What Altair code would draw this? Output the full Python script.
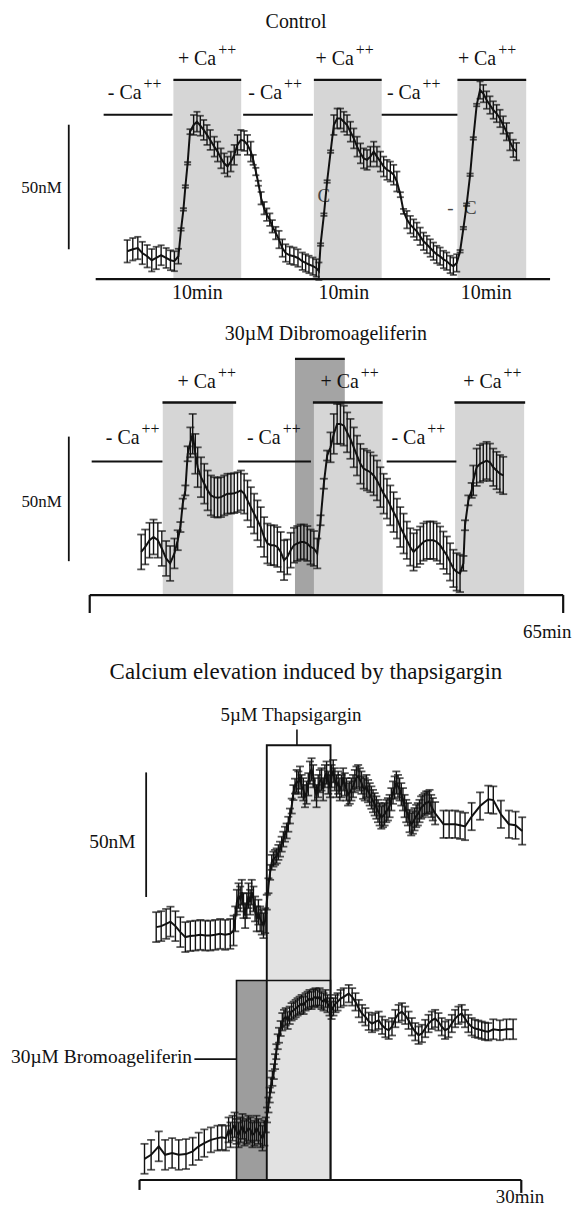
import altair as alt
import pandas as pd

FONT = "Liberation Serif"
INK = "#111111"
LIGHT = "#d6d6d6"
DARK2 = "#a4a4a4"
LIGHT3 = "#e2e2e2"
DARK3 = "#9d9d9d"
W = 564

# ---------------- Panel 1: Control (time in min, [Ca] in nM above baseline) ----------------
p1_time = [2.26, 2.66, 3.02, 3.34, 3.69, 4.02, 4.34, 4.69, 5.05, 5.36,
           5.64, 5.93, 6.12, 6.29, 6.43, 6.59, 6.76, 7.02, 7.26, 7.5,
           7.74, 7.98, 8.21, 8.5, 8.74, 8.98, 9.21, 9.45, 9.69, 9.93,
           10.16, 10.41, 10.64, 10.88, 11.12, 11.29, 11.48, 11.66, 11.86, 12.07,
           12.26, 12.48, 12.66, 12.91, 13.14, 13.38, 13.62, 13.91, 14.21, 14.5,
           14.81, 15.05, 15.29, 15.57, 15.81, 16.0, 16.12, 16.36, 16.59, 16.84,
           17.07, 17.31, 17.55, 17.79, 18.02, 18.26, 18.5, 18.74, 18.98, 19.21,
           19.45, 19.69, 19.93, 20.16, 20.41, 20.64, 20.88, 21.12, 21.36, 21.59,
           21.84, 22.07, 22.31, 22.55, 22.79, 23.02, 23.26, 23.5, 23.74, 23.98,
           24.21, 24.45, 24.69, 24.93, 25.16, 25.41, 25.64, 25.88, 26.12, 26.36,
           26.59, 26.84, 27.07, 27.31, 27.55, 27.79, 28.02, 28.26, 28.5, 28.74,
           28.98, 29.21, 29.45, 29.69, 29.93, 30.16]
p1_ca = [11.2, 12.0, 12.5, 10.5, 9.2, 7.6, 8.5, 9.6, 8.5, 7.6,
         7.2, 9.2, 20.0, 28.0, 37.2, 46.5, 59.2, 61.9, 63.2, 61.6,
         59.9, 57.9, 55.9, 53.2, 51.2, 48.5, 46.5, 45.2, 47.2, 49.9,
         53.9, 55.9, 55.5, 53.9, 51.2, 47.9, 43.2, 38.5, 32.5, 28.5,
         25.9, 23.9, 21.2, 18.5, 15.9, 12.5, 10.5, 9.6, 9.2, 8.5,
         7.2, 6.5, 5.9, 5.2, 4.5, 3.2, 13.9, 25.9, 39.2, 51.2,
         61.9, 64.5, 64.5, 63.2, 61.9, 59.2, 56.5, 53.2, 50.5, 48.5,
         47.9, 49.2, 51.2, 49.2, 47.2, 45.2, 43.9, 43.2, 41.9, 39.2,
         33.9, 27.2, 23.9, 21.9, 20.5, 19.2, 17.2, 15.2, 13.9, 12.5,
         11.2, 9.9, 9.2, 7.9, 7.2, 5.9, 5.2, 6.5, 11.2, 20.5,
         29.9, 41.9, 56.5, 69.9, 75.9, 74.5, 71.9, 69.9, 67.9, 66.5,
         64.5, 61.9, 59.2, 55.2, 52.5, 51.2]
p1_err = [4.5, 4.5, 4.5, 4.5, 4.5, 4.5, 4.5, 4.0, 4.0, 4.0,
          4.0, 3.0, 0.5, 0.5, 0.5, 0.5, 1.0, 4.0, 4.0, 4.0,
          4.0, 4.0, 4.0, 4.0, 4.0, 4.0, 4.0, 4.0, 4.0, 4.0,
          4.0, 4.0, 4.0, 4.0, 4.0, 2.0, 1.5, 1.0, 2.5, 2.5,
          2.5, 2.5, 2.5, 2.5, 3.5, 3.5, 3.5, 3.5, 3.5, 3.5,
          3.5, 3.5, 3.5, 3.5, 3.5, 3.5, 0.5, 0.5, 0.5, 0.5,
          4.0, 4.0, 4.0, 4.0, 4.0, 4.0, 4.0, 4.0, 4.0, 4.0,
          4.0, 4.0, 4.0, 4.0, 4.0, 4.0, 4.0, 4.0, 4.0, 4.0,
          1.0, 1.0, 3.5, 3.5, 3.5, 3.5, 3.5, 3.5, 3.5, 3.5,
          3.5, 3.5, 3.5, 3.5, 3.5, 3.5, 3.5, 3.5, 0.5, 0.5,
          0.5, 0.5, 0.5, 0.5, 3.5, 3.5, 3.5, 3.5, 3.5, 3.5,
          3.5, 3.5, 3.5, 3.5, 3.5, 3.5]
p1_on_start = [5.57, 15.64, 25.93]
p1_on_end = [10.43, 20.5, 30.86]
p1_off_start = [0.57, 10.57, 20.5]
p1_off_end = [5.5, 15.57, 25.93]

# ---------------- Panel 2: 30 uM Dibromoageliferin ----------------
p2_time = [7.07, 7.62, 8.21, 8.76, 9.35, 9.9, 10.49, 11.04, 11.63, 12.08,
           12.45, 12.77, 13.13, 13.45, 13.82, 14.14, 14.5, 14.82, 15.28, 15.73,
           16.19, 16.64, 17.1, 17.56, 18.01, 18.47, 18.92, 19.38, 19.84, 20.29,
           20.75, 21.2, 21.66, 22.12, 22.57, 23.03, 23.48, 23.94, 24.4, 24.85,
           25.31, 25.76, 26.22, 26.68, 27.13, 27.59, 28.04, 28.5, 28.96, 29.41,
           29.87, 30.32, 30.78, 31.24,
           31.69, 32.14, 32.6, 33.06, 33.51, 33.97, 34.42, 34.88, 35.34, 35.79,
           36.25, 36.7, 37.16, 37.62, 38.07, 38.53, 38.98, 39.44, 39.9, 40.35,
           40.81, 41.26, 41.72, 42.18, 42.63, 43.09, 43.54, 44.0, 44.46, 44.91,
           45.37, 45.82, 46.28, 46.74, 47.19, 47.65, 48.1, 48.56, 49.02, 49.47,
           49.93, 50.38, 50.84, 51.3, 51.52, 51.98, 52.44, 52.66, 53.12, 53.58,
           54.03, 54.49, 54.94, 55.4, 55.86, 56.31, 56.77]
p2_ca = [17.3, 19.3, 22.0, 23.3, 22.0, 18.7, 14.7, 12.7, 16.7, 22.0,
         27.3, 36.7, 42.0, 56.7, 61.3, 64.7, 56.7, 51.3, 47.3, 44.7,
         42.0, 40.0, 39.3, 39.1, 39.3, 40.0, 40.7, 40.7, 40.9, 41.3,
         42.0, 40.7, 38.0, 35.3, 32.7, 30.0, 27.3, 23.3, 20.7, 20.0,
         20.0, 19.3, 17.3, 14.0, 15.3, 18.0, 20.0, 20.7, 21.3, 21.3,
         20.7, 19.3, 18.7, 16.7,
         30.0, 44.7, 56.0, 59.3, 64.7, 68.7, 68.7, 68.0, 65.3, 62.7,
         59.3, 56.0, 52.7, 50.7, 50.0, 49.3, 48.0, 46.0, 43.3, 40.7,
         38.7, 36.0, 33.3, 30.7, 27.3, 24.7, 22.0, 19.3, 17.3, 18.7,
         20.0, 21.3, 22.0, 22.0, 22.0, 21.3, 20.0, 18.0, 16.0, 13.3,
         10.7, 9.3, 8.7, 12.7, 28.0, 38.0, 42.0, 46.0, 51.3, 52.7,
         53.3, 54.0, 53.3, 51.3, 50.0, 48.7, 48.0]
p2_err = [7, 7, 7, 7, 7, 7, 7, 7, 6, 4,
          2, 2, 2, 3, 6, 8, 8, 8, 8, 8,
          8, 8, 8, 8, 8, 8, 8, 8, 8, 8,
          8, 8, 8, 8, 8, 8, 8, 8, 8, 8,
          8, 8, 8, 8, 7, 7, 7, 7, 7, 7,
          7, 7, 7, 6,
          2, 2, 2, 6, 8, 8, 8, 8, 8, 8,
          8, 8, 8, 8, 8, 8, 8, 8, 8, 8,
          8, 8, 8, 8, 8, 8, 7.5, 7.5, 7.5, 7.5,
          7.5, 7.5, 7.5, 7.5, 7.5, 7.5, 7.5, 7.5, 7.5, 7.5,
          7.5, 7.5, 7.5, 3, 2, 2, 3, 6, 7.5, 7.5,
          7.5, 7.5, 7.5, 7.5, 7.5, 7.5, 7.5]
p2_on_start = [10.03, 30.78, 50.16]
p2_on_end = [19.7, 40.22, 59.64]
p2_bar_start = [9.99, 30.64, 50.07]
p2_bar_end = [20.1, 40.22, 59.78]
p2_off_start = [0.27, 20.38, 40.77]
p2_off_end = [9.99, 30.37, 50.34]
p2_drug_start = [28.18]
p2_drug_end = [35.02]

# ---------------- Panel 3: thapsigargin ----------------
p3_up_time = [1.31, 1.70, 2.09, 2.43, 2.82, 3.21, 3.60, 3.99, 4.39, 4.78,
              5.17, 5.56, 5.95, 6.34, 6.73, 7.13, 7.39, 7.52, 7.65, 7.78,
              7.91, 8.04, 8.17, 8.30, 8.43, 8.56, 8.69, 8.82, 8.95, 9.08,
              9.21, 9.34, 9.48, 9.61, 9.74, 9.87, 10.0, 10.13, 10.26, 10.39,
              10.52, 10.65, 10.78, 10.91, 11.04, 11.17, 11.30, 11.43, 11.56, 11.69,
              11.82, 11.96, 12.09, 12.22, 12.35, 12.48, 12.61, 12.74, 12.87, 13.0,
              13.13, 13.26, 13.39, 13.52, 13.65, 13.78, 13.91, 14.04, 14.17, 14.30,
              14.43, 14.57, 14.70, 14.83, 14.96, 15.09, 15.22, 15.35, 15.48, 15.61,
              15.74, 15.87, 16.0, 16.13, 16.26, 16.39, 16.52, 16.65, 16.78, 16.92,
              17.05, 17.18, 17.31, 17.44, 17.57, 17.70, 17.83, 17.96, 18.09, 18.22,
              18.35, 18.48, 18.61, 18.74, 18.87, 19.0, 19.13, 19.26, 19.39, 19.52,
              19.65, 19.79, 19.92, 20.05, 20.18, 20.31, 20.44, 20.57, 20.70, 20.83,
              20.96, 21.09, 21.22, 21.35, 21.48, 21.61, 21.74, 21.87, 22.0, 22.13,
              22.26, 22.40, 22.53, 22.66, 22.79, 22.92, 23.05, 23.23, 23.89, 24.33,
              24.80, 25.19, 25.58, 26.10, 26.76, 27.41, 27.80, 28.40, 29.03, 29.55,
              30.07]
p3_up_ca = [11.5, 11.9, 12.8, 13.7, 11.9, 9.5, 7.5, 7.9, 8.1, 8.4,
            8.1, 8.1, 8.4, 8.8, 8.4, 8.8, 10.1, 14.8, 21.5, 24.1,
            22.8, 25.5, 20.1, 16.1, 20.1, 24.1, 21.5, 25.5, 22.8, 18.8,
            14.8, 17.5, 14.8, 13.5, 12.1, 14.1, 21.5, 28.1, 33.5, 37.5,
            38.8, 39.5, 40.1, 41.5, 42.8, 44.8, 46.8, 48.8, 50.1, 52.8,
            56.1, 60.1, 65.5, 68.1, 70.1, 69.5, 71.5, 68.1, 66.8, 64.1,
            65.5, 68.8, 73.5, 74.8, 72.1, 66.8, 64.1, 68.1, 70.1, 70.8,
            66.8, 72.1, 73.5, 69.5, 68.1, 72.1, 74.1, 70.8, 68.1, 69.5,
            66.8, 68.1, 70.8, 68.8, 66.8, 64.8, 65.5, 66.8, 68.1, 70.1,
            71.5, 72.1, 70.8, 69.5, 67.5, 66.8, 68.1, 66.1, 64.8, 63.5,
            62.1, 60.8, 59.5, 58.1, 56.8, 55.5, 56.1, 56.8, 58.1, 58.8,
            60.1, 62.8, 65.5, 67.5, 69.5, 68.1, 66.8, 64.8, 62.8, 60.1,
            58.1, 56.8, 54.1, 52.8, 53.5, 54.8, 56.1, 56.8, 58.1, 59.5,
            60.1, 60.8, 61.5, 61.5, 62.1, 60.1, 58.8, 57.2, 52.8, 52.8,
            52.8, 52.4, 51.9, 55.9, 60.1, 62.8, 62.5, 56.8, 52.8, 52.4,
            50.1]
p3_up_err = [6, 6, 6, 6, 6, 6, 6, 6, 6, 6,
             6, 6, 6, 6, 6, 6, 6, 5, 5, 5,
             5, 5, 5, 5, 5, 5, 5, 5, 5, 5,
             5, 5, 5, 5, 5, 5, 3, 3, 3, 3,
             3, 3, 3, 3, 3, 3, 3, 3, 3, 3,
             3, 3, 3, 3, 4.5, 4.5, 4.5, 4.5, 4.5, 4.5,
             4.5, 4.5, 4.5, 4.5, 4.5, 4.5, 4.5, 4.5, 4.5, 4.5,
             4.5, 4.5, 4.5, 4.5, 4.5, 4.5, 4.5, 4.5, 4.5, 4.5,
             4.5, 4.5, 4.5, 4.5, 4.5, 4.5, 4.5, 4.5, 4.5, 4.5,
             4.5, 4.5, 4.5, 4.5, 4.5, 4.5, 4.5, 4.5, 4.5, 4.5,
             4.5, 4.5, 4.5, 4.5, 4.5, 4.5, 4.5, 4.5, 4.5, 4.5,
             4.5, 4.5, 4.5, 4.5, 4.5, 4.5, 4.5, 4.5, 4.5, 4.5,
             4.5, 4.5, 4.5, 4.5, 4.5, 4.5, 4.5, 4.5, 4.5, 4.5,
             4.5, 4.5, 4.5, 4.5, 4.5, 4.5, 4.5, 4.5, 5.5, 5.5,
             5.5, 5.5, 5.5, 5.5, 5.5, 5.5, 5.5, 5.5, 5.5, 5.5,
             5.5]
p3_lo_time = [0.39, 0.91, 1.51, 2.01, 2.56, 3.08, 3.65, 4.18, 4.65, 5.09,
              5.61, 6.13, 6.47, 6.79, 7.0, 7.15, 7.31, 7.47, 7.62, 7.78,
              7.94, 8.09, 8.25, 8.41, 8.56, 8.72, 8.87, 9.03, 9.19, 9.34,
              9.50, 9.66, 9.81, 9.92, 10.02, 10.13, 10.23, 10.34, 10.44, 10.55,
              10.65, 10.75, 10.86, 10.96, 11.09, 11.22, 11.35, 11.49, 11.64, 11.80,
              11.95, 12.11, 12.27, 12.42, 12.58, 12.74, 12.89, 13.05, 13.21, 13.36,
              13.52, 13.68, 13.83, 13.99, 14.15, 14.30, 14.46, 14.62, 14.77, 14.93,
              15.09, 15.24, 15.40, 15.56, 15.80, 16.05, 16.44, 16.71, 16.97, 17.23, 17.49,
              17.75, 18.01, 18.27, 18.53, 18.79, 19.06, 19.32, 19.58, 19.84, 20.10,
              20.36, 20.62, 20.88, 21.14, 21.40, 21.67, 21.93, 22.19, 22.45, 22.71,
              22.97, 23.23, 23.49, 23.75, 24.01, 24.28, 24.54, 24.80, 25.06, 25.32,
              25.58, 25.84, 26.10, 26.36, 26.62, 26.89, 27.15, 27.41, 27.80, 28.32,
              28.84, 29.36]
p3_lo_ca = [8.5, 10.1, 13.5, 10.1, 10.8, 10.1, 10.4, 11.5, 13.5, 14.8,
            16.1, 16.8, 17.1, 16.8, 20.1, 18.1, 20.8, 22.1, 19.5, 18.1,
            20.1, 21.5, 18.8, 19.5, 20.8, 20.1, 18.1, 18.8, 20.8, 19.5,
            18.1, 16.8, 18.8, 22.1, 26.1, 30.1, 34.1, 38.1, 40.8, 43.5,
            47.5, 51.5, 55.5, 58.1, 60.8, 63.5, 64.8, 65.5, 64.1, 66.1,
            67.5, 68.1, 68.8, 69.5, 70.1, 70.8, 70.1, 71.5, 72.1, 72.8,
            72.1, 73.1, 73.5, 72.8, 73.5, 72.1, 71.5, 72.8, 70.8, 69.5,
            68.1, 69.5, 70.8, 71.5, 72.8, 73.5, 74.8, 73.5, 71.5, 68.8, 66.8,
            65.5, 63.7, 62.8, 63.5, 64.1, 62.1, 60.8, 60.1, 61.5, 64.8,
            66.8, 67.5, 66.1, 64.1, 61.5, 59.5, 58.1, 58.8, 60.8, 62.8,
            64.1, 64.8, 63.5, 61.5, 60.1, 60.8, 62.8, 64.8, 66.1, 66.8,
            64.8, 62.8, 61.5, 60.8, 60.5, 60.1, 59.7, 59.5, 60.5, 60.1,
            60.5, 60.5]
p3_lo_err = [6, 6, 6, 6, 6, 6, 6, 5.5, 5.5, 5.5,
             5, 5, 5, 5, 5, 5, 5, 5, 5, 5,
             5, 5, 5, 5, 5, 5, 5, 5, 5, 5,
             5, 5, 5, 3, 3, 3, 3, 3, 3, 3,
             3, 3, 3, 3, 3, 3.5, 3.5, 3.5, 3.5, 3.5,
             3.5, 3.5, 3.5, 3.5, 3.5, 3.5, 3.5, 3.5, 3.5, 3.5,
             3.5, 3.5, 3.5, 3.5, 3.5, 3.5, 3.5, 3.5, 3.5, 3.5,
             3.5, 3.5, 3.5, 3.5, 3.5, 3.5, 3.5, 3.5, 3.5, 3.5, 3.5,
             3.5, 3.5, 3.5, 3.5, 3.5, 3.5, 3.5, 3.5, 3.5, 3.5,
             3.5, 3.5, 3.5, 3.5, 3.5, 3.5, 3.5, 3.5, 3.5, 3.5,
             3.5, 3.5, 3.5, 3.5, 3.5, 3.5, 3.5, 3.5, 3.5, 3.5,
             3.5, 3.5, 3.5, 3.5, 3.5, 3.5, 3.5, 3.5, 4, 4,
             4, 4]
p3_thaps = [10.0, 15.01]
p3_bromo = [7.62, 10.0]
UP_SHIFT = 90  # vertical offset (nM units) that stacks the upper trace above the lower one


# ---------------- helpers ----------------
def X(f, xs):
    return alt.X(f"{f}:Q", scale=xs, axis=None)


def Y(f, ys):
    return alt.Y(f"{f}:Q", scale=ys, axis=None)


def band(starts, ends, lo, hi, xs, ys, color, **kw):
    df = pd.DataFrame({"s": starts, "e": ends})
    return (alt.Chart(df).transform_calculate(lo=str(lo), hi=str(hi))
            .mark_rect(color=color, **kw)
            .encode(x=X("s", xs), x2="e:Q", y=Y("lo", ys), y2="hi:Q"))


def hrule(starts, ends, level, xs, ys, width=1.5):
    df = pd.DataFrame({"s": starts, "e": ends})
    return (alt.Chart(df).transform_calculate(v=str(level))
            .mark_rule(color=INK, strokeWidth=width)
            .encode(x=X("s", xs), x2="e:Q", y=Y("v", ys)))


def vrule(ats, lo, hi, xs, ys, width=1.5):
    df = pd.DataFrame({"t": ats})
    return (alt.Chart(df).transform_calculate(lo=str(lo), hi=str(hi))
            .mark_rule(color=INK, strokeWidth=width)
            .encode(x=X("t", xs), y=Y("lo", ys), y2="hi:Q"))


def texts(ts, vs, labels, xs, ys, size, align="center", baseline="middle", dx=0, dy=0, color=INK):
    df = pd.DataFrame({"t": ts, "v": vs, "label": labels})
    return (alt.Chart(df)
            .mark_text(font=FONT, fontSize=size, align=align, baseline=baseline, dx=dx, dy=dy, color=color)
            .encode(x=X("t", xs), y=Y("v", ys), text="label:N"))


def ca_labels(anchors, level, sign, xs, ys):
    n = len(anchors)
    return [
        texts(anchors, [level] * n, [f"{sign} Ca"] * n, xs, ys, 20, align="right", baseline="alphabetic"),
        texts(anchors, [level] * n, ["++"] * n, xs, ys, 16, align="left", baseline="alphabetic", dx=2, dy=-10),
    ]


def trace(times, vals, errs, xs, ys, cap, shift=0):
    df = pd.DataFrame({"t": times, "v": vals, "e": errs})
    base = alt.Chart(df).transform_calculate(
        m=f"datum.v + {shift}",
        lo=f"datum.v - datum.e + {shift}",
        hi=f"datum.v + datum.e + {shift}",
    )
    bars = base.mark_rule(color=INK, strokeWidth=1.4).encode(x=X("t", xs), y=Y("lo", ys), y2="hi:Q")
    c1 = base.mark_tick(color=INK, orient="horizontal", size=cap, thickness=1.8).encode(x=X("t", xs), y=Y("lo", ys))
    c2 = base.mark_tick(color=INK, orient="horizontal", size=cap, thickness=1.8).encode(x=X("t", xs), y=Y("hi", ys))
    line = base.mark_line(color=INK, strokeWidth=2.0).encode(x=X("t", xs), y=Y("m", ys))
    return [bars, c1, c2, line]


# ---------------- panel 1 ----------------
xs1 = alt.Scale(domain=[-6.2857, 34.0], nice=False, zero=False)
ys1 = alt.Scale(domain=[-12.8, 108.0], nice=False, zero=False)
p1_layers = [
    band(p1_on_start, p1_on_end, 0, 80, xs1, ys1, LIGHT),
    hrule(p1_on_start, p1_on_end, 80, xs1, ys1, 2.4),
    hrule(p1_off_start, p1_off_end, 66, xs1, ys1, 1.8),
    hrule([0], [32.57], 0, xs1, ys1, 2.2),
    vrule([-1.93], 12, 62, xs1, ys1, 1.8),
    texts([16.36, 25.43, 26.86], [33.2, 28.4, 28.4], ["C", "-", "C"], xs1, ys1, 19, color="#444444"),
]
p1_layers += trace(p1_time, p1_ca, p1_err, xs1, ys1, 7)
p1_layers += [
    texts([14.36], [103.2], ["Control"], xs1, ys1, 20),
    texts([7.29, 17.79, 28.0], [-5.6, -5.6, -5.6], ["10min", "10min", "10min"], xs1, ys1, 20),
    texts([-2.43], [36.4], ["50nM"], xs1, ys1, 17, align="right"),
]
p1_layers += ca_labels([8.64, 18.5, 28.71], 86, "+", xs1, ys1)
p1_layers += ca_labels([3.29, 13.36, 23.29], 72.4, "-", xs1, ys1)
panel1 = alt.layer(*p1_layers).properties(width=W, height=302)

# ---------------- panel 2 ----------------
xs2 = alt.Scale(domain=[-11.218, 65.937], nice=False, zero=False)
ys2 = alt.Scale(domain=[-20.0, 114.0], nice=False, zero=False)
p2_layers = [
    band(p2_drug_start, p2_drug_end, 0, 94.8, xs2, ys2, DARK2),
    hrule(p2_drug_start, p2_drug_end, 94.8, xs2, ys2, 2.2),
    band(p2_on_start, p2_on_end, 0, 77.3, xs2, ys2, LIGHT),
    hrule(p2_bar_start, p2_bar_end, 77.3, xs2, ys2, 2.4),
    hrule(p2_off_start, p2_off_end, 53.6, xs2, ys2, 1.8),
    hrule([0], [65], 0, xs2, ys2, 2.2),
    vrule([0, 65], -7.2, 0, xs2, ys2, 2.2),
    vrule([-2.87], 13.6, 63.6, xs2, ys2, 1.8),
]
p2_layers += trace(p2_time, p2_ca, p2_err, xs2, ys2, 8)
p2_layers += [
    texts([32.42], [104.8], ["30\u00b5M Dibromoageliferin"], xs2, ys2, 20),
    texts([62.8], [-14.8], ["65min"], xs2, ys2, 19),
    texts([-3.83], [37.2], ["50nM"], xs2, ys2, 17, align="right"),
]
p2_layers += ca_labels([17.33, 36.94, 56.54], 83.3, "+", xs2, ys2)
p2_layers += ca_labels([6.84, 26.22, 46.06], 60.7, "-", xs2, ys2)
panel2 = alt.layer(*p2_layers).properties(width=W, height=335)

# ---------------- panel 3 ----------------
xs3 = alt.Scale(domain=[-10.337, 33.829], nice=False, zero=False)
ys3 = alt.Scale(domain=[-9.6, 214.8], nice=False, zero=False)
up_df = pd.DataFrame({"t": p3_up_time, "v": p3_up_ca})
under = (alt.Chart(up_df)
         .transform_filter(f"datum.t >= {p3_thaps[0]} && datum.t <= {p3_thaps[1]}")
         .transform_calculate(m=f"datum.v + {UP_SHIFT}", z="0")
         .mark_area(color=LIGHT3)
         .encode(x=X("t", xs3), y=Y("m", ys3), y2="z:Q"))
p3_layers = [
    under,
    band([p3_bromo[0]], [p3_bromo[1]], 0, 80.1, xs3, ys3, DARK3),
    band([p3_thaps[0]], [p3_thaps[1]], 0, 174.5, xs3, ys3, "white", fillOpacity=0, stroke=INK, strokeWidth=1.9),
    band([p3_bromo[0]], [p3_thaps[1]], 0, 80.1, xs3, ys3, "white", fillOpacity=0, stroke=INK, strokeWidth=1.6),
    vrule([12.37], 174.4, 180.8, xs3, ys3, 1.6),
    hrule([4.31], [7.62], 48.5, xs3, ys3, 1.8),
    hrule([0], [30], 0, xs3, ys3, 2.2),
    vrule([0], -4, 0, xs3, ys3, 2.2),
    vrule([30], -5.2, 0, xs3, ys3, 2.2),
    vrule([0.52], 113.6, 163.6, xs3, ys3, 1.8),
]
p3_layers += trace(p3_up_time, p3_up_ca, p3_up_err, xs3, ys3, 8, shift=UP_SHIFT)
p3_layers += trace(p3_lo_time, p3_lo_ca, p3_lo_err, xs3, ys3, 8)
p3_layers += [
    texts([13.08], [204.0], ["Calcium elevation induced by thapsigargin"], xs3, ys3, 23),
    texts([11.9], [186.8], ["5\u00b5M Thapsigargin"], xs3, ys3, 19),
    texts([4.13], [49.2], ["30\u00b5M Bromoageliferin"], xs3, ys3, 19.5, align="right"),
    texts([-0.31], [135.6], ["50nM"], xs3, ys3, 19.5, align="right"),
    texts([29.9], [-9.2], ["30min"], xs3, ys3, 19, baseline="alphabetic"),
]
panel3 = alt.layer(*p3_layers).properties(width=W, height=561)

chart = (alt.vconcat(panel1, panel2, panel3, spacing=0, bounds="flush")
         .properties(padding=0)
         .configure_view(stroke=None))

chart.save("out.html", embed_options={"renderer": "svg", "actions": False})
